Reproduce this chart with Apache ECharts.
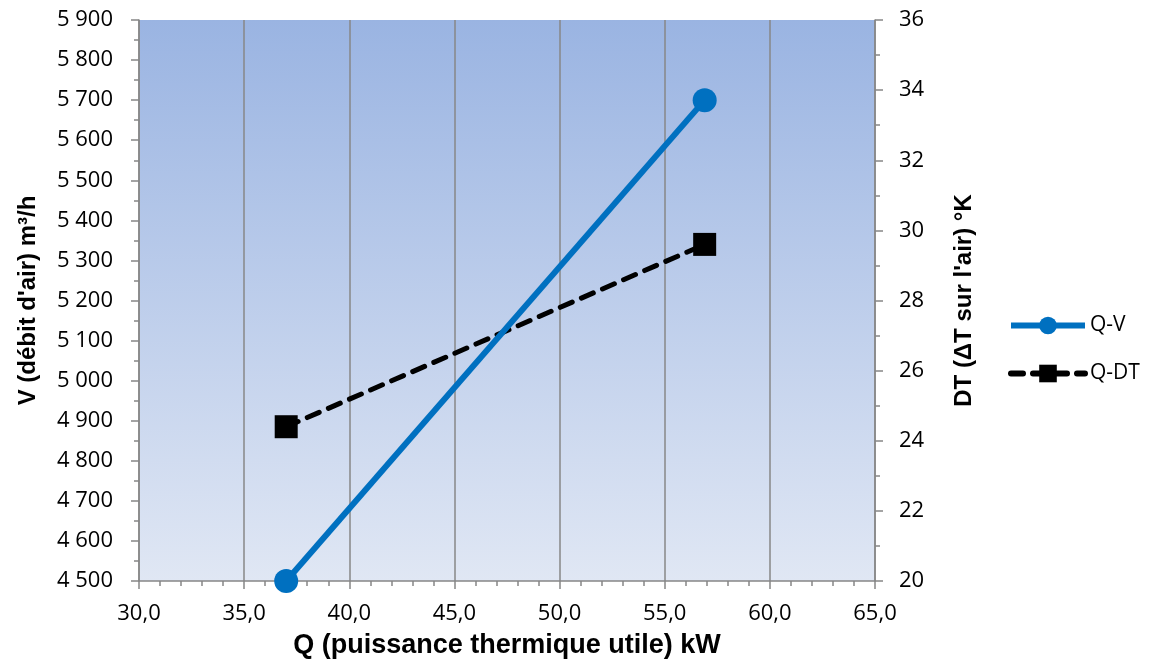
<!DOCTYPE html>
<html>
<head>
<meta charset="utf-8">
<script src="https://cdn.jsdelivr.net/npm/echarts@6/dist/echarts.min.js"></script>
<style>
  html, body { margin: 0; padding: 0; background: #fff; }
  #chart { width: 1151px; height: 664px; }
</style>
</head>
<body>
<div id="chart"></div>
<script>
(function () {
  // Q (kW) for each measured point
  var q = [37.0, 56.9]
  // V (m3/h)
  var v = [4500, 5700]
  // DT (K)
  var dt = [24.4, 29.6]

  var font = 'Open Sans'
  var gray = '#878787'
  var titleStyle = { fontFamily: 'Liberation Sans', fontWeight: 'bold', fontSize: 24, color: '#000' }

  function pairs(xs, ys) {
    return xs.map(function (x, i) { return [x, ys[i]] })
  }

  var myChart = echarts.init(document.getElementById('chart'))
  var option = {
    animation: false,
    textStyle: { fontFamily: font, color: '#000' },
    grid: {
      left: 139, right: 276, top: 20, bottom: 83,
      show: true,
      borderWidth: 0,
      backgroundColor: new echarts.graphic.LinearGradient(0, 0, 0, 1, [
        { offset: 0, color: '#9AB4E2' },
        { offset: 1, color: '#E0E7F4' }
      ])
    },
    legend: {
      orient: 'vertical',
      left: 1003,
      top: 310,
      itemWidth: 74,
      itemHeight: 22,
      itemGap: 27,
      textStyle: { fontFamily: font, fontSize: 21, color: '#000' },
      data: [
        { name: 'Q-V', lineStyle: { width: 6 } },
        { name: 'Q-DT', lineStyle: { width: 6, type: [12, 10] } }
      ]
    },
    xAxis: {
      type: 'value',
      min: 30, max: 65, interval: 5,
      name: 'Q (puissance thermique utile) kW',
      nameLocation: 'middle',
      nameGap: 51,
      nameTextStyle: Object.assign({}, titleStyle, { fontSize: 27 }),
      axisLine: { show: true, lineStyle: { color: gray, width: 1.5 } },
      axisTick: { show: true, length: 8, lineStyle: { color: gray, width: 1.5 } },
      minorTick: { show: true, splitNumber: 5, length: 5, lineStyle: { color: gray, width: 1.5 } },
      splitLine: { show: true, lineStyle: { color: gray, width: 1.5 } },
      axisLabel: {
        margin: 22, fontSize: 22, color: '#000',
        formatter: function (val) { return val.toFixed(1).replace('.', ',') }
      }
    },
    yAxis: [
      {
        type: 'value',
        min: 4500, max: 5900, interval: 100,
        name: "V (débit d'air) m³/h",
        nameLocation: 'middle',
        nameRotate: 90,
        nameGap: 99,
        nameTextStyle: titleStyle,
        axisLine: { show: true, lineStyle: { color: gray, width: 1.5 } },
        axisTick: { show: true, length: 8, lineStyle: { color: gray, width: 1.5 } },
        minorTick: { show: true, splitNumber: 2, length: 5, lineStyle: { color: gray, width: 1.5 } },
        splitLine: { show: false },
        axisLabel: {
          margin: 26, fontSize: 22, color: '#000',
          formatter: function (val) {
            return String(val).replace(/\B(?=(\d{3})+(?!\d))/g, ' ')
          }
        }
      },
      {
        type: 'value',
        position: 'right',
        min: 20, max: 36, interval: 2,
        name: "DT (ΔT sur l'air) °K",
        nameLocation: 'middle',
        nameRotate: 90,
        nameGap: 77,
        nameTextStyle: titleStyle,
        axisLine: { show: true, lineStyle: { color: gray, width: 1.5 } },
        axisTick: { show: true, length: 8, lineStyle: { color: gray, width: 1.5 } },
        minorTick: { show: true, splitNumber: 2, length: 5, lineStyle: { color: gray, width: 1.5 } },
        splitLine: { show: false },
        axisLabel: { margin: 24, fontSize: 22, color: '#000' }
      }
    ],
    series: [
      {
        name: 'Q-V',
        type: 'line',
        yAxisIndex: 0,
        data: pairs(q, v),
        symbol: 'circle',
        symbolSize: 24,
        lineStyle: { color: '#0070C0', width: 6 },
        itemStyle: { color: '#0070C0' },
        z: 3
      },
      {
        name: 'Q-DT',
        type: 'line',
        yAxisIndex: 1,
        data: pairs(q, dt),
        symbol: 'rect',
        symbolSize: 23,
        lineStyle: { color: '#000', width: 5, type: [13, 10], cap: 'round' },
        itemStyle: { color: '#000' },
        z: 2
      }
    ]
  }
  myChart.setOption(option)
})()
</script>
</body>
</html>
